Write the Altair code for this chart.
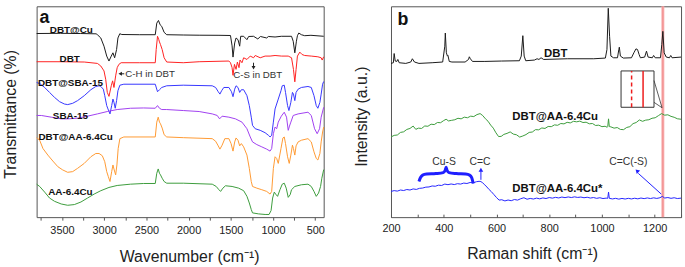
import altair as alt
import pandas as pd

FONT = "Liberation Sans"

# ---------------- Panel a: FTIR (wavenumber, transmittance offset a.u.) ----------------
SERIES_A = ["DBT@Cu", "DBT", "DBT@SBA-15", "SBA-15", "DBT@AA-6.4Cu", "AA-6.4Cu"]
COLORS_A = ["#1a1a1a", "#ff2020", "#3636ff", "#a040f0", "#ff9a33", "#3c9c3c"]

DBT_CU_W = [3800, 3518, 3283, 3095, 3080, 3040, 3002, 2970, 2943, 2916, 2896, 2876, 2853, 2837, 2815,
            2791, 2579, 2395, 2377, 2357, 2337, 2318, 2290, 2259, 2063, 1875, 1640, 1504, 1485, 1474,
            1454, 1438, 1415, 1395, 1383, 1348, 1309, 1289, 1231, 1180, 1149, 1075, 1055, 976, 902,
            781, 761, 742, 723, 711, 695, 664, 625, 551, 400]
DBT_CU_T = [185.5, 185.7, 185.5, 185.2, 184.3, 181, 172.7, 162.7, 157.7, 162.7, 166, 161, 169.3, 181, 185.3,
            184.5, 184.3, 184.3, 196, 198.7, 194.3, 192.7, 186.7, 184.3, 184, 183.8, 183.7, 183.5, 173, 161.7,
            176, 181, 179.3, 172.7, 182.7, 182.7, 179.3, 182.5, 182.7, 180, 182.5, 181, 182.5, 182, 182.7,
            182.7, 177.7, 166, 177.7, 183.3, 186, 184.3, 183.3, 183.7, 182.7]

DBT_W = [3800, 3518, 3236, 3080, 3040, 3002, 2982, 2963, 2943, 2916, 2900, 2884, 2864, 2846, 2826,
         2799, 2579, 2395, 2384, 2368, 2353, 2345, 2333, 2313, 2290, 2259, 2063, 1875, 1523, 1504,
         1485, 1474, 1457, 1438, 1422, 1403, 1391, 1368, 1348, 1309, 1270, 1231, 1211, 1152, 1094,
         1035, 976, 899, 820, 781, 758, 742, 727, 711, 683, 656, 625, 547, 469, 430, 418, 400]
DBT_T = [157, 157, 156.7, 155.3, 152.7, 147.7, 139.3, 126, 122, 132.7, 137.7, 131, 142.7, 151, 154.3,
         156, 156, 156, 169.3, 182.7, 179.3, 177, 174.3, 169.3, 161, 156.7, 156, 157, 157.7, 156,
         151, 143.3, 154.3, 149.3, 156.7, 151, 158.7, 156, 161, 159.3, 162.7, 161, 163.3, 161, 162.7,
         162.7, 163.3, 162.7, 162.7, 161, 149.3, 136.7, 149.3, 162.7, 166.7, 164.3, 163.3, 162.7, 162, 161, 158.7, 162]

DBT_SBA_W = [3800, 3764, 3705, 3647, 3588, 3529, 3471, 3432, 3373, 3315, 3236, 3158, 3099, 3060, 3040,
             3010, 2993, 2970, 2955, 2931, 2911, 2896, 2884, 2869, 2853, 2837, 2814, 2767, 2395, 2368,
             2345, 2318, 2259, 2063, 1720, 1680, 1649, 1629, 1609, 1583, 1523, 1492, 1474, 1454, 1438,
             1415, 1395, 1375, 1348, 1309, 1281, 1258, 1243, 1211, 1152, 1094, 1055, 1035, 1016, 996,
             976, 938, 906, 891, 867, 852, 828, 812, 789, 770, 758, 742, 727, 703, 664,
             586, 547, 515, 488, 469, 445, 430, 413, 400]
DBT_SBA_T = [136, 135, 131, 126, 121, 116.7, 114.3, 113.7, 115, 117.7, 122.7, 128.7, 132, 132.7, 132,
             129.3, 122.7, 112.7, 109.3, 104.3, 112.7, 119.3, 116, 110, 117.7, 127.7, 133.3, 134.3, 134.3, 126.7,
             128.7, 131, 132.7, 133.3, 132.7, 131, 126.7, 124.3, 127.7, 131, 131, 126.7, 121.7, 129.3, 132.7,
             131, 126, 128.7, 128.7, 122.7, 112.7, 101, 92.7, 89.3, 87.7, 85.3, 82.7, 81, 82.7, 96,
             109.3, 119.3, 127.7, 132.7, 133.3, 126, 112.7, 107.7, 116, 126, 124.3, 117.7, 126, 129.3, 131,
             132, 131, 122.7, 112.7, 110, 116, 124.3, 134.3, 137]

SBA_W = [3800, 3744, 3627, 3509, 3432, 3315, 3197, 3080, 2963, 2846, 2689, 2533, 2395, 2368, 2345,
         2318, 2259, 2063, 1875, 1720, 1661, 1633, 1603, 1523, 1445, 1368, 1309, 1270, 1243, 1192,
         1133, 1075, 1035, 1016, 996, 976, 957, 938, 902, 867, 840, 820, 805, 789, 761,
         703, 586, 547, 508, 477, 449, 430, 400]
SBA_T = [102.7, 102.7, 101, 99.3, 99.3, 100, 102, 104.3, 106.7, 108.7, 110, 110.3, 110, 112.7, 110,
         108.7, 108.7, 107.7, 106.7, 104.3, 102.7, 99.3, 102, 101, 99.3, 96, 89.3, 81, 76, 73.3,
         71, 68.7, 66.7, 69.3, 84.3, 91, 89.3, 96, 102, 106, 101, 87.7, 92, 96, 102.7,
         104.3, 106, 102.7, 89.3, 84.3, 89.3, 101, 111]

DBT_AA_W = [3800, 3764, 3725, 3667, 3608, 3549, 3491, 3432, 3373, 3315, 3236, 3158, 3099, 3060, 3022,
            2993, 2970, 2951, 2931, 2911, 2896, 2881, 2864, 2849, 2834, 2814, 2767, 2395, 2377, 2360,
            2345, 2333, 2313, 2290, 2259, 2063, 1720, 1680, 1649, 1629, 1603, 1571, 1523, 1497, 1474,
            1454, 1438, 1415, 1395, 1375, 1348, 1309, 1281, 1258, 1243, 1192, 1133, 1075, 1035, 1016,
            996, 976, 957, 938, 906, 883, 867, 852, 828, 808, 789, 770, 758, 742, 727,
            703, 664, 586, 547, 515, 488, 469, 445, 430, 413, 400]
DBT_AA_T = [80.3, 77.7, 69.3, 62.7, 56.7, 51, 47.7, 45.3, 46, 49.3, 54.3, 61, 64.3, 64.3, 62,
            56, 46, 41, 36, 46, 52.7, 47.7, 42.7, 52.7, 69.3, 79.3, 81, 81, 96, 101,
            96, 94.3, 90, 83.3, 81, 80.3, 79.3, 76.7, 72, 68.7, 72.7, 79.3, 79.3, 74.3, 66.7,
            76, 80, 77.7, 72, 74.3, 71, 62.7, 49.3, 36, 31, 29.3, 27.7, 26, 23.3, 26,
            49.3, 61, 59.3, 54.3, 69.3, 80, 81, 74.3, 61, 54.3, 62.7, 72.7, 69.3, 62.7, 72,
            76, 77.7, 79.3, 76, 66, 59.3, 57.7, 64.3, 76, 86, 91]

AA_W = [3800, 3764, 3705, 3647, 3588, 3509, 3432, 3353, 3275, 3197, 3119, 3040, 2943, 2846, 2689,
        2533, 2395, 2377, 2360, 2345, 2333, 2313, 2290, 2259, 2063, 1720, 1673, 1641, 1621, 1594,
        1563, 1485, 1407, 1348, 1309, 1281, 1258, 1243, 1172, 1094, 1047, 1023, 1005, 985, 969,
        946, 918, 891, 867, 844, 820, 797, 781, 742, 664, 586, 547, 515, 488, 461,
        437, 422, 400]
AA_T = [33.3, 31, 25.3, 19.3, 16, 13.3, 12, 12.7, 15.3, 19.3, 23.3, 26.7, 30, 32, 33.3,
        34, 34, 44.3, 48.7, 44.3, 42.7, 39.3, 36, 34.3, 34.3, 33.3, 31, 27.7, 26, 29.3,
        31.7, 31, 29.3, 26.7, 21, 14.3, 7.7, 4.3, 3.3, 2.7, 2.7, 6.7, 19.3, 25.3, 23.3,
        21, 27.7, 33.3, 34.3, 29.3, 20, 22.7, 27.7, 31, 32.7, 33.3, 31, 26, 21, 24.3,
        31, 39.3, 48]

LABELS_A = ["DBT@Cu", "DBT", "DBT@SBA-15", "SBA-15", "DBT@AA-6.4Cu", "AA-6.4Cu"]
LABELS_A_W = [3389, 3409, 3400, 3400, 3338, 3400]
LABELS_A_T = [189.3, 160.2, 135.5, 102, 81.3, 25.2]

# ---------------- Panel b: Raman (shift, intensity offset a.u.) ----------------
SERIES_B = ["Raman DBT", "Raman DBT@AA-6.4Cu", "Raman DBT@AA-6.4Cu*"]
COLORS_B = ["#1a1a1a", "#3c9c3c", "#2424ff"]

R_DBT_S = [200, 209, 212, 216, 222, 226, 231, 256, 275, 281, 289, 306, 356, 396, 404,
           406, 410, 414, 416, 421, 431, 481, 494, 497, 501, 509, 556, 619, 687, 694,
           700, 705, 711, 744, 754, 761, 769, 779, 869, 969, 1013, 1019, 1024, 1029, 1034,
           1044, 1059, 1064, 1066, 1070, 1081, 1112, 1121, 1129, 1135, 1141, 1146, 1162, 1169, 1175,
           1191, 1196, 1202, 1222, 1227, 1231, 1236, 1244, 1256, 1261, 1266, 1300]
R_DBT_I = [155.3, 156, 165.3, 157.7, 157.3, 159.3, 156, 155.3, 156.7, 160, 156.7, 155.3, 156, 156.7, 172.7,
           186, 166, 162.7, 163.3, 157.3, 156.7, 156.7, 159.3, 162, 160, 157.3, 157.3, 157.7, 158, 162.7,
           183.3, 162.7, 158, 158.7, 160, 159.3, 161, 159.3, 160, 160, 160.7, 169.3, 211, 182.7, 162.7,
           161, 161, 169.3, 171.7, 162.7, 160.7, 161, 166, 170, 169.3, 164.3, 161, 161.7, 167.7, 161.7,
           161, 163.3, 161, 161, 174.3, 187.7, 166, 161.7, 161, 163.3, 161, 161.7]

# noisy traces, read as (shift, intensity) pairs
R_AA_PTS = [(200, 81.0), (212, 82.6), (224, 83.0), (236, 85.6), (248, 86.2), (260, 88.6), (272, 89.6),
            (284, 92.0), (294, 88.7), (304, 89.9), (316, 89.6), (328, 92.1), (340, 91.8), (352, 93.9),
            (364, 93.5), (376, 95.6), (388, 95.4), (400, 97.6), (409, 98.9), (418, 97.2), (430, 97.8),
            (442, 98.4), (454, 99.9), (466, 99.3), (478, 101.0), (490, 100.4), (502, 102.0), (514, 101.6),
            (526, 103.6), (538, 104.6), (548, 102.6), (558, 99.4), (568, 96.9), (578, 93.0), (588, 89.9),
            (598, 85.2), (608, 81.4), (618, 81.6), (628, 83.6), (640, 84.6), (652, 86.1), (664, 83.9),
            (676, 83.2), (688, 80.9), (700, 82.0), (712, 83.4), (724, 85.6), (736, 86.0), (748, 88.4),
            (760, 88.2), (772, 90.1), (784, 89.6), (796, 91.6), (808, 91.4), (820, 93.2), (832, 92.8),
            (844, 94.6), (856, 94.2), (868, 95.8), (880, 95.2), (892, 96.8), (904, 96.3), (916, 97.0),
            (928, 95.6), (940, 95.9), (952, 94.3), (964, 94.6), (976, 92.6), (988, 92.9), (1000, 91.4),
            (1012, 91.8), (1020, 90.8), (1022, 91.5), (1025, 99.3), (1028, 91.5), (1034, 91.2),
            (1046, 89.9), (1058, 90.5), (1070, 88.6), (1082, 88.4), (1094, 90.6), (1106, 91.4),
            (1118, 94.5), (1130, 95.6), (1142, 98.2), (1154, 96.8), (1166, 98.0), (1178, 98.4),
            (1190, 99.9), (1202, 100.4), (1214, 102.5), (1226, 104.6), (1238, 103.0), (1250, 103.4),
            (1262, 101.8), (1274, 100.9), (1286, 99.4), (1300, 98.9)]

R_AAS_PTS = [(200, 26.0), (212, 26.8), (224, 26.3), (236, 27.4), (248, 26.9), (260, 27.9), (272, 27.4),
             (284, 28.5), (296, 28.0), (308, 29.1), (320, 29.4), (332, 30.3), (344, 30.5), (356, 31.5),
             (368, 31.2), (380, 32.3), (392, 32.0), (404, 33.4), (416, 32.8), (428, 33.5), (440, 32.9),
             (452, 33.8), (464, 33.4), (476, 34.4), (488, 34.0), (500, 35.0), (512, 34.7), (524, 35.8),
             (534, 36.2), (541, 35.9), (548, 34.6), (556, 32.5), (564, 30.4), (572, 27.9), (580, 25.9),
             (590, 22.9), (600, 19.8), (610, 17.2), (620, 17.6), (632, 16.4), (644, 17.3), (656, 16.6),
             (668, 17.8), (680, 17.2), (692, 18.6), (704, 19.6), (716, 18.1), (728, 18.9), (740, 18.3),
             (752, 19.2), (764, 18.5), (776, 19.4), (788, 18.8), (800, 19.8), (812, 19.2), (824, 20.0),
             (836, 19.4), (848, 20.3), (860, 19.7), (872, 20.4), (884, 19.8), (896, 20.5), (908, 19.9),
             (920, 20.3), (932, 19.6), (944, 20.1), (956, 19.3), (968, 19.8), (980, 19.0), (992, 19.6),
             (1004, 18.8), (1016, 19.2), (1022, 19.0), (1025, 25.3), (1028, 19.0), (1040, 18.4),
             (1052, 19.0), (1064, 18.2), (1076, 18.9), (1088, 18.3), (1100, 19.0), (1112, 18.4),
             (1124, 19.1), (1136, 18.5), (1148, 19.3), (1160, 18.7), (1172, 19.4), (1184, 18.8),
             (1196, 19.5), (1208, 18.9), (1220, 19.6), (1229, 21.0), (1238, 19.3), (1250, 19.8),
             (1262, 19.0), (1274, 19.6), (1286, 18.8), (1300, 19.2)]

LABELS_B = ["DBT", "DBT@AA-6.4Cu", "DBT@AA-6.4Cu*"]
LABELS_B_S = [825, 660, 660]
LABELS_B_I = [165.2, 101, 28.3]

NOTES_B = ["Cu-S", "C=C", "C=C(-S)"]
NOTES_B_S = [401, 537.5, 1100]
NOTES_B_I = [56, 56, 56]

BRACE_S = [306, 312, 320, 335, 370, 398, 405, 409, 413, 420, 448, 483, 498, 506, 512]
BRACE_I = [36, 40, 42.5, 43.5, 44, 45, 47, 50.5, 47, 45, 44, 43.5, 42.5, 40, 34]

MARK_LINE_S = 1231          # highlighted Raman band
INSET_S = [1072.5, 1197.5]  # inset box extent
INSET_I = [111, 147.7]
INSET_DASH_S = 1112.5
INSET_SOLID_S = 1156

# ---------------- build tables ----------------
def long_table(names, xs_list, ys_list, xname, yname):
    frames = []
    for n, xs, ys in zip(names, xs_list, ys_list):
        frames.append(pd.DataFrame({xname: xs, yname: ys, "series": n}))
    return pd.concat(frames, ignore_index=True)

df_a = long_table(SERIES_A,
                  [DBT_CU_W, DBT_W, DBT_SBA_W, SBA_W, DBT_AA_W, AA_W],
                  [DBT_CU_T, DBT_T, DBT_SBA_T, SBA_T, DBT_AA_T, AA_T], "w", "t")
df_b = long_table(SERIES_B,
                  [R_DBT_S, [p[0] for p in R_AA_PTS], [p[0] for p in R_AAS_PTS]],
                  [R_DBT_I, [p[1] for p in R_AA_PTS], [p[1] for p in R_AAS_PTS]], "s", "i")

xa = alt.Scale(domain=[400, 3800], reverse=True, nice=False, zero=False)
ya = alt.Scale(domain=[0, 213], nice=False, zero=False)
xb = alt.Scale(domain=[200, 1300], nice=False, zero=False)
yb = alt.Scale(domain=[0, 213], nice=False, zero=False)

AXCOL = "#222222"

# ---------------- panel a ----------------
lines_a = alt.Chart(df_a).mark_line(strokeWidth=1).encode(
    x=alt.X("w:Q", scale=xa, axis=alt.Axis(
        title="Wavenumber (cm⁻¹)", values=list(range(500, 3751, 250)),
        labelExpr="datum.value % 500 === 0 ? format(datum.value, 'd') : ''",
        tickSize=3, labelPadding=14, labelBaseline="alphabetic", labelFlush=False,
        labelOverlap=False, titleX=154, titleY=45, titleBaseline="alphabetic", titleAlign="center")),
    y=alt.Y("t:Q", scale=ya, axis=alt.Axis(
        title="Transmittance (%)", labels=False, ticks=False, domain=False,
        titleX=-21, titleY=108.7, titleBaseline="alphabetic", titleAlign="center",
        titleAngle=270, minExtent=0)),
    color=alt.Color("series:N", scale=alt.Scale(domain=SERIES_A, range=COLORS_A), legend=None),
)

def text_a(df, align, baseline="middle", **kw):
    return alt.Chart(df).mark_text(font=FONT, align=align, baseline=baseline, **kw).encode(
        x=alt.X("w:Q", scale=xa, axis=None), y=alt.Y("t:Q", scale=ya, axis=None), text="label:N")

lab_a = text_a(pd.DataFrame({"w": LABELS_A_W, "t": LABELS_A_T, "label": LABELS_A}),
               "center", fontWeight="bold", fontSize=10, color="#111")
panel_tag_a = text_a(pd.DataFrame({"w": [3765], "t": [196], "label": ["a"]}),
                     "left", baseline="alphabetic", fontWeight="bold", fontSize=18, color="#111")
note_ch = text_a(pd.DataFrame({"w": [2749], "t": [144.3], "label": ["C-H in DBT"]}),
                 "left", fontSize=9.8, color="#333")
note_cs = text_a(pd.DataFrame({"w": [1182], "t": [143.5], "label": ["C-S in DBT"]}),
                 "center", fontSize=9.8, color="#333")

shaft_ch = alt.Chart(pd.DataFrame({"w": [2808], "w2": [2762], "t": [144.8]})).mark_rule(
    color="#222", strokeWidth=1).encode(
    x=alt.X("w:Q", scale=xa, axis=None), x2="w2:Q", y=alt.Y("t:Q", scale=ya, axis=None))
head_ch = alt.Chart(pd.DataFrame({"w": [2810], "t": [144.8]})).mark_point(
    shape="triangle-left", filled=True, size=16, color="#222", opacity=1).encode(
    x=alt.X("w:Q", scale=xa, axis=None), y=alt.Y("t:Q", scale=ya, axis=None))
shaft_cs = alt.Chart(pd.DataFrame({"w": [1231], "t": [156], "t2": [152]})).mark_rule(
    color="#222", strokeWidth=1).encode(
    x=alt.X("w:Q", scale=xa, axis=None), y=alt.Y("t:Q", scale=ya, axis=None), y2="t2:Q")
head_cs = alt.Chart(pd.DataFrame({"w": [1231], "t": [151]})).mark_point(
    shape="triangle-down", filled=True, size=16, color="#222", opacity=1).encode(
    x=alt.X("w:Q", scale=xa, axis=None), y=alt.Y("t:Q", scale=ya, axis=None))

panel_a = alt.layer(lines_a, lab_a, panel_tag_a, note_ch, note_cs, shaft_ch, head_ch,
                    shaft_cs, head_cs).resolve_axis(x="independent", y="independent").properties(
    width=290, height=213)

# ---------------- panel b ----------------
band_wide = alt.Chart(pd.DataFrame({"s": [MARK_LINE_S]})).mark_rule(
    color="#f8b0b0", strokeWidth=3).encode(x=alt.X("s:Q", scale=xb, axis=None))
band_core = alt.Chart(pd.DataFrame({"s": [MARK_LINE_S]})).mark_rule(
    color="#ef7a7a", strokeWidth=0.7).encode(x=alt.X("s:Q", scale=xb, axis=None))

lines_b = alt.Chart(df_b).mark_line(strokeWidth=1).encode(
    x=alt.X("s:Q", scale=xb, axis=alt.Axis(
        title="Raman shift (cm⁻¹)", values=list(range(200, 1201, 200)), format="d",
        ticks=False, tickSize=0, labelPadding=14.7, labelBaseline="alphabetic", labelFlush=False,
        titleX=142.5, titleY=42, titleBaseline="alphabetic", titleAlign="center")),
    y=alt.Y("i:Q", scale=yb, axis=alt.Axis(
        title="Intensity (a.u.)", labels=False, ticks=False, domain=False,
        titleX=-25, titleY=111, titleBaseline="alphabetic", titleAlign="center",
        titleAngle=270, minExtent=0)),
    color=alt.Color("series:N", scale=alt.Scale(domain=SERIES_B, range=COLORS_B), legend=None),
)

inward_ticks = alt.Chart(pd.DataFrame({"s": [200, 1300]})).mark_point(opacity=0).encode(
    x=alt.X("s:Q", scale=xb, axis=alt.Axis(
        orient="top", offset=-213, values=list(range(200, 1301, 100)), labels=False, title=None,
        domain=False, ticks=True, tickSize=3, grid=False)))

def text_b(df, align, baseline="middle", **kw):
    return alt.Chart(df).mark_text(font=FONT, baseline=baseline, align=align, **kw).encode(
        x=alt.X("s:Q", scale=xb, axis=None), y=alt.Y("i:Q", scale=yb, axis=None), text="label:N")

lab_b_center = text_b(pd.DataFrame({"s": LABELS_B_S[:1], "i": LABELS_B_I[:1], "label": LABELS_B[:1]}),
                      "center", fontWeight="bold", fontSize=11.5, color="#111")
lab_b_left = text_b(pd.DataFrame({"s": LABELS_B_S[1:], "i": LABELS_B_I[1:], "label": LABELS_B[1:]}),
                    "left", fontWeight="bold", fontSize=11.5, color="#111")
notes_b = text_b(pd.DataFrame({"s": NOTES_B_S, "i": NOTES_B_I, "label": NOTES_B}),
                 "center", fontSize=10.5, color="#333")
panel_tag_b = text_b(pd.DataFrame({"s": [225], "i": [194.3], "label": ["b"]}),
                     "left", baseline="alphabetic", fontWeight="bold", fontSize=18, color="#111")

BLUE = "#1f1fff"
brace = alt.Chart(pd.DataFrame({"s": BRACE_S, "i": BRACE_I})).mark_line(
    color=BLUE, strokeWidth=3, interpolate="monotone").encode(
    x=alt.X("s:Q", scale=xb, axis=None), y=alt.Y("i:Q", scale=yb, axis=None))

arrow_shafts = alt.Chart(pd.DataFrame({"s": [541, 1225], "s2": [541, 1138],
                                       "i": [37.7, 23.3], "i2": [46.5, 44.2]})).mark_rule(
    color=BLUE, strokeWidth=1).encode(
    x=alt.X("s:Q", scale=xb, axis=None), x2="s2:Q", y=alt.Y("i:Q", scale=yb, axis=None), y2="i2:Q")
arrow_heads = alt.Chart(pd.DataFrame({"s": [541, 1133], "i": [47.8, 46.8], "ang": [0, 315]})).mark_point(
    shape="triangle-up", filled=True, size=22, color=BLUE, opacity=1).encode(
    x=alt.X("s:Q", scale=xb, axis=None), y=alt.Y("i:Q", scale=yb, axis=None),
    angle=alt.Angle("ang:Q", scale=None))

inset_box = alt.Chart(pd.DataFrame({"s": [INSET_S[0]], "s2": [INSET_S[1]],
                                    "i": [INSET_I[0]], "i2": [INSET_I[1]]})).mark_rect(
    fill="white", stroke="#333", strokeWidth=1).encode(
    x=alt.X("s:Q", scale=xb, axis=None), x2="s2:Q", y=alt.Y("i:Q", scale=yb, axis=None), y2="i2:Q")
inset_dash = alt.Chart(pd.DataFrame({"s": [INSET_DASH_S], "i": [INSET_I[0]], "i2": [INSET_I[1]]})).mark_rule(
    color="#ee1c1c", strokeWidth=1.5, strokeDash=[4, 3]).encode(
    x=alt.X("s:Q", scale=xb, axis=None), y=alt.Y("i:Q", scale=yb, axis=None), y2="i2:Q")
inset_solid = alt.Chart(pd.DataFrame({"s": [INSET_SOLID_S], "i": [INSET_I[0]], "i2": [INSET_I[1]]})).mark_rule(
    color="#ee1c1c", strokeWidth=1.5).encode(
    x=alt.X("s:Q", scale=xb, axis=None), y=alt.Y("i:Q", scale=yb, axis=None), y2="i2:Q")
connectors = alt.Chart(pd.DataFrame({"s": [INSET_S[1], INSET_S[1]], "s2": [1228, 1228],
                                     "i": [138, 116], "i2": [110.5, 110.5]})).mark_rule(
    color="#333", strokeWidth=0.8).encode(
    x=alt.X("s:Q", scale=xb, axis=None), x2="s2:Q", y=alt.Y("i:Q", scale=yb, axis=None), y2="i2:Q")

panel_b = alt.layer(band_wide, band_core, lines_b, inward_ticks, lab_b_center, lab_b_left, notes_b,
                    panel_tag_b, brace, arrow_shafts, arrow_heads, inset_box, inset_dash,
                    inset_solid, connectors).resolve_axis(x="independent", y="independent").properties(
    width=293, height=213)

chart = alt.hconcat(panel_a, panel_b, spacing=26).resolve_scale(color="independent").properties(
    padding={"left": 2, "top": 3, "right": 0, "bottom": 0}, background="white"
).configure_view(stroke="#555", strokeWidth=1).configure_axis(
    grid=False, domain=False, labelFont=FONT, titleFont=FONT, labelFontSize=11, titleFontSize=16,
    titleFontWeight="normal", labelColor=AXCOL, titleColor=AXCOL, tickColor="#555", tickWidth=1
)

chart.save("out.html", embed_options={"renderer": "svg", "actions": False})
